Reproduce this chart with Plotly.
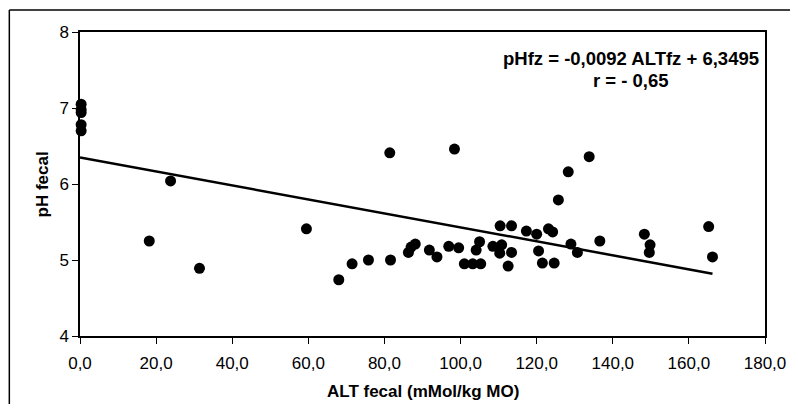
import plotly.graph_objects as go

# Data
alt_fecal = [0.3, 0.3, 0.3, 0.3, 0.3, 18.2, 23.8, 31.4, 59.5, 68.0, 71.5, 75.8, 81.6, 81.4,
             86.3, 87.0, 88.1, 91.8, 93.8, 96.9, 98.4, 99.5, 101.0, 103.2, 105.3, 104.1,
             105.0, 108.5, 110.4, 110.3, 110.8, 112.5, 113.4, 113.4, 117.3, 120.0, 120.5,
             121.5, 123.1, 124.2, 124.6, 125.7, 128.3, 129.0, 130.7, 133.8, 136.6, 148.3,
             149.8, 149.6, 165.2, 166.2]
ph_fecal = [7.05, 6.98, 6.94, 6.78, 6.70, 5.25, 6.04, 4.89, 5.41, 4.74, 4.95, 5.0, 5.0, 6.41,
            5.1, 5.17, 5.21, 5.13, 5.04, 5.18, 6.46, 5.16, 4.95, 4.95, 4.95, 5.13,
            5.24, 5.18, 5.45, 5.09, 5.2, 4.92, 5.45, 5.1, 5.38, 5.34, 5.12,
            4.96, 5.41, 5.37, 4.96, 5.79, 6.16, 5.21, 5.1, 6.36, 5.25, 5.34,
            5.2, 5.1, 5.44, 5.04]
slope = -0.0092
intercept = 6.3495
equation_text = "pHfz = -0,0092 ALTfz + 6,3495"
r_text = "r = - 0,65"
x_title = "ALT fecal (mMol/kg MO)"
y_title = "pH fecal"

trend_x = [0, max(alt_fecal)]
trend_y = [intercept + slope * v for v in trend_x]

FONT = "Liberation Sans, Arial, sans-serif"
FS = 17

fig = go.Figure()
fig.add_trace(go.Scatter(x=trend_x, y=trend_y, mode="lines",
                         line=dict(color="black", width=2.5), hoverinfo="skip"))
fig.add_trace(go.Scatter(x=alt_fecal, y=ph_fecal, mode="markers", cliponaxis=False,
                         marker=dict(color="black", size=11, line=dict(width=0))))

# page has an 8px body margin; figure coordinates = page coordinates - 8
W, H = 790, 396
L, R, T, B = 72, 25, 24, 68
pw, ph = W - L - R, H - T - B


def px(xf):
    return (xf - L) / pw


def py(yf):
    return (H - B - yf) / ph


border = dict(color="black", width=1.5)
fig.update_layout(
    width=W, height=H,
    margin=dict(l=L, r=R, t=T, b=B),
    paper_bgcolor="white", plot_bgcolor="white",
    showlegend=False,
    separators=",.",
    font=dict(family=FONT, size=FS, color="black"),
    xaxis=dict(range=[0, 180], dtick=20, tickformat=".1f", showgrid=False, zeroline=False,
               showline=True, linecolor="black", linewidth=1.5, mirror=True,
               ticks="outside", ticklen=6, tickwidth=1, tickcolor="black",
               ticklabelstandoff=5, tickfont=dict(size=FS)),
    yaxis=dict(range=[4, 8], dtick=1, showgrid=False, zeroline=False,
               showline=True, linecolor="black", linewidth=1.5, mirror=True,
               ticks="outside", ticklen=6, tickwidth=1, tickcolor="black",
               tickfont=dict(size=FS)),
    shapes=[
        dict(type="line", xref="paper", yref="paper",
             x0=px(0.5), x1=px(0.5), y0=py(2), y1=py(H + 60), line=border),
        dict(type="line", xref="paper", yref="paper",
             x0=px(0.5), x1=px(W + 60), y0=py(2), y1=py(2), line=border),
    ],
    annotations=[
        dict(text="<b>" + equation_text + "</b>", xref="paper", yref="paper",
             x=px(629), y=py(51), xanchor="center", yanchor="middle",
             showarrow=False, font=dict(size=18.5)),
        dict(text="<b>" + r_text + "</b>", xref="paper", yref="paper",
             x=px(629), y=py(72), xanchor="center", yanchor="middle",
             showarrow=False, font=dict(size=18.5)),
        dict(text="<b>" + x_title + "</b>", xref="paper", yref="paper",
             x=0.5, y=py(383), xanchor="center", yanchor="middle",
             showarrow=False, font=dict(size=FS)),
        dict(text="<b>" + y_title + "</b>", xref="paper", yref="paper",
             x=px(34), y=0.5, xanchor="center", yanchor="middle", textangle=-90,
             showarrow=False, font=dict(size=FS)),
    ],
)

fig.write_html("out.html")
